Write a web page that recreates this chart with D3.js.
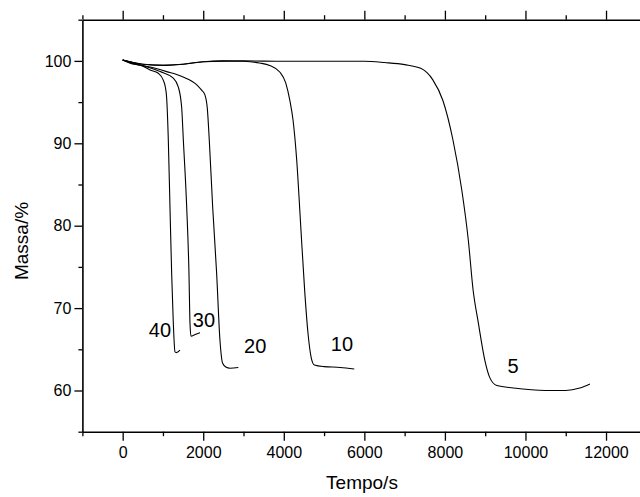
<!DOCTYPE html>
<html>
<head>
<meta charset="utf-8">
<script src="https://cdn.jsdelivr.net/npm/d3@7"></script>
<style>
  body { margin: 0; background: #fff; }
  svg text { font-family: "Liberation Sans", Arial, sans-serif; fill: #000; }
</style>
</head>
<body>
<script>
// TGA curves, mass (%) vs time (s), one per heating rate
var rates = ["5", "10", "20", "30", "40"];

var t5  = [0, 500, 1000, 1500, 2000, 3000, 4000, 5000, 6000, 6500, 7000, 7400, 7700, 7950, 8200, 8420, 8580, 8700, 8830, 8990, 9120, 9290, 9700, 10500, 11000, 11350, 11600];
var m5  = [100.1, 99.6, 99.45, 99.6, 99.9, 100, 99.95, 99.95, 99.95, 99.8, 99.55, 99.1, 97.7, 95.2, 90.4, 84.3, 78.3, 72.2, 68.2, 63.7, 61.5, 60.6, 60.3, 60.0, 60.0, 60.3, 60.8];

var t10 = [0, 500, 1000, 1500, 2000, 2500, 3000, 3400, 3650, 3900, 4050, 4150, 4230, 4320, 4420, 4520, 4600, 4680, 4760, 5000, 5400, 5750];
var m10 = [100.1, 99.6, 99.5, 99.6, 99.9, 100, 99.95, 99.75, 99.45, 98.65, 97.3, 95.2, 92.8, 88, 80, 72, 67, 64, 63.1, 62.9, 62.8, 62.6];

var t20 = [0, 300, 680, 1090, 1500, 1840, 1960, 2040, 2100, 2150, 2234, 2333, 2415, 2482, 2560, 2664, 2871];
var m20 = [100.1, 99.6, 99.25, 98.7, 98.05, 97.1, 96.45, 95.9, 94.3, 90.4, 82.3, 74.2, 66.1, 63.3, 62.85, 62.7, 62.8];

var t30 = [0, 300, 600, 930, 1257, 1380, 1464, 1506, 1589, 1646, 1671, 1696, 1800, 1920];
var m30 = [100.1, 99.7, 99.3, 98.7, 97.9, 96.85, 94.4, 90.4, 82.3, 74.2, 68.2, 66.6, 66.8, 67.0];

var t40 = [0, 200, 430, 680, 884, 1008, 1060, 1092, 1133, 1174, 1216, 1257, 1298, 1330, 1423];
var m40 = [100.1, 99.7, 99.5, 98.9, 98.5, 97.66, 96.8, 95.5, 90.4, 82.3, 74.2, 68.2, 64.7, 64.6, 64.9];

// where each rate label sits, in data units (time, mass)
var labelTime = [9689, 5444, 3289, 2018, 926];
var labelMass = [62.15, 64.8, 64.5, 67.66, 66.5];

var xTicks = d3.range(-1000, 13001, 1000);
var yTicks = d3.range(55, 105.1, 5);

var times = [t5, t10, t20, t30, t40];
var masses = [m5, m10, m20, m30, m40];

var width = 640, height = 497;
var margin = {top: 19.7, right: -6.3, bottom: 65.3, left: 82.4};

var svg = d3.select("body").append("svg")
    .attr("width", width)
    .attr("height", height);

var xScale = d3.scaleLinear()
    .domain([-1000, 13000])
    .range([margin.left, width - margin.right]);

var yScale = d3.scaleLinear()
    .domain([55, 105])
    .range([height - margin.bottom, margin.top]);

function isMajorX(d) { return d % 2000 === 0; }
function isMajorY(d) { return d % 10 === 0; }

// bottom axis
var xAxis = svg.append("g")
    .attr("transform", "translate(0," + yScale(55) + ")")
    .call(d3.axisBottom(xScale).tickValues(xTicks).tickSizeOuter(0)
        .tickFormat(function(d) { return isMajorX(d) && d >= 0 ? d : ""; }));
xAxis.selectAll(".tick line").attr("y2", function(d) { return isMajorX(d) ? 9 : 4.5; });
xAxis.selectAll(".tick text").attr("y", 26).attr("dy", 0).style("font-size", "16px");

// top axis
var topAxis = svg.append("g")
    .attr("transform", "translate(0," + yScale(105) + ")")
    .call(d3.axisTop(xScale).tickValues(xTicks).tickSizeOuter(0).tickFormat(""));
topAxis.selectAll(".tick line").attr("y2", function(d) { return isMajorX(d) ? -9 : -4.5; });

// left axis
var yAxis = svg.append("g")
    .attr("transform", "translate(" + xScale(-1000) + ",0)")
    .call(d3.axisLeft(yScale).tickValues(yTicks).tickSizeOuter(0)
        .tickFormat(function(d) { return isMajorY(d) && d < 105 ? d : ""; }));
yAxis.selectAll(".tick line").attr("x2", function(d) { return isMajorY(d) ? -8 : -4; });
yAxis.selectAll(".tick text").attr("x", -11).style("font-size", "16px");

// right axis (falls just outside the picture)
svg.append("g")
    .attr("transform", "translate(" + xScale(13000) + ",0)")
    .call(d3.axisRight(yScale).tickValues(yTicks).tickSizeOuter(0).tickFormat(""));

svg.selectAll(".domain").attr("stroke-width", 1.6);
svg.selectAll(".tick line").attr("stroke-width", 1.3);

// the curves
var line = d3.line()
    .x(function(d) { return xScale(d[0]); })
    .y(function(d) { return yScale(d[1]); })
    .curve(d3.curveMonotoneX);

var curves = rates.map(function(r, i) {
    return d3.zip(times[i], masses[i]);
});

svg.selectAll("path.curve")
    .data(curves)
    .enter()
    .append("path")
    .attr("class", "curve")
    .attr("fill", "none")
    .attr("stroke", "#000")
    .attr("stroke-width", 1.1)
    .attr("d", line);

// rate labels
svg.selectAll("text.rate")
    .data(rates)
    .enter()
    .append("text")
    .attr("class", "rate")
    .attr("x", function(d, i) { return xScale(labelTime[i]); })
    .attr("y", function(d, i) { return yScale(labelMass[i]); })
    .attr("text-anchor", "middle")
    .style("font-size", "20px")
    .text(function(d) { return d; });

// axis titles
svg.append("text")
    .attr("x", 362)
    .attr("y", 489)
    .attr("text-anchor", "middle")
    .style("font-size", "19px")
    .text("Tempo/s");

svg.append("text")
    .attr("transform", "translate(28,241) rotate(-90)")
    .attr("text-anchor", "middle")
    .style("font-size", "19px")
    .text("Massa/%");
</script>
</body>
</html>
